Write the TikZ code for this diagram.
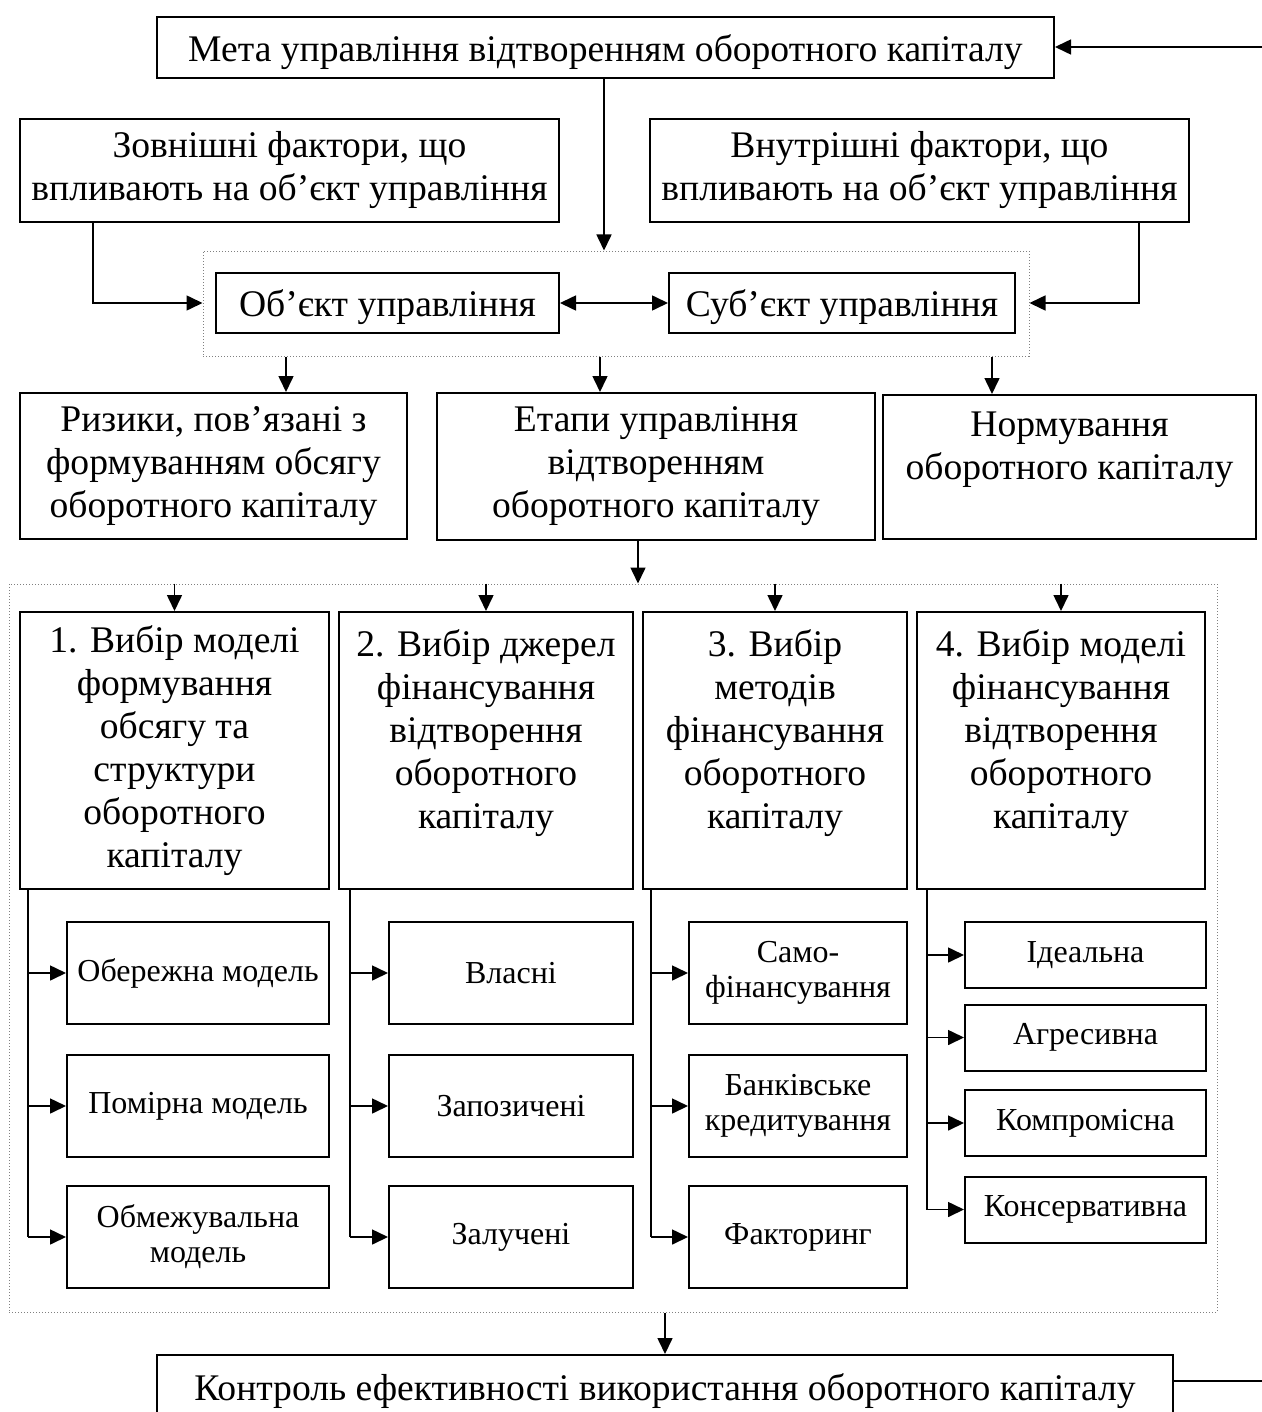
\documentclass[tikz,border=0pt]{standalone}
\usepackage{fontspec}
\setmainfont{Liberation Serif}
\usetikzlibrary{arrows.meta}

\begin{document}
\begin{tikzpicture}[x=0.5pt,y=-0.5pt,
    box/.style={draw,line width=1pt,align=center,inner sep=2pt,font=\fontsize{18.8}{21.5}\selectfont,
        execute at begin node=\rule{0pt}{18pt}},
    sbox/.style={draw,line width=1pt,align=center,inner sep=2pt,font=\fontsize{16}{17.5}\selectfont},
    grp/.style={draw=gray,densely dotted,line width=0.5pt},
    line/.style={line width=0.8pt},
    arr/.style={line width=0.8pt,-{Triangle[length=8pt,width=7.5pt]}},
    arrb/.style={line width=0.8pt,{Triangle[length=8pt,width=7.5pt]}-{Triangle[length=8pt,width=7.5pt]}}]
    \useasboundingbox (0,0) rectangle (1262,1412);
    \node[grp,minimum width=413pt,minimum height=52.5pt] (grp1) at (616,303.5) {};
    \node[grp,minimum width=604pt,minimum height=364pt] (grp2) at (613,948) {};
    \node[box,minimum width=448.5pt,minimum height=30.5pt] (meta) at (605.5,47.5) {Мета управління відтворенням оборотного капіталу};
    \node[box,minimum width=269.5pt,minimum height=51.5pt] (zovn) at (289.5,170.5) {Зовнішні фактори, що\\ впливають на об’єкт управління};
    \node[box,minimum width=269.5pt,minimum height=51.5pt] (vnutr) at (919.5,170.5) {Внутрішні фактори, що\\ впливають на об’єкт управління};
    \node[box,minimum width=171.5pt,minimum height=30pt] (obj) at (387.5,303) {Об’єкт управління};
    \node[box,minimum width=173pt,minimum height=30pt] (subj) at (842,303) {Суб’єкт управління};
    \node[box,minimum width=193.5pt,minimum height=73pt] (ryz) at (213.5,466) {Ризики, пов’язані з\\ формуванням обсягу\\ оборотного капіталу};
    \node[box,minimum width=219pt,minimum height=73.5pt] (etap) at (656,466.5) {Етапи управління\\ відтворенням\\ оборотного капіталу};
    \node[box,minimum width=186.5pt,minimum height=72pt] (norm) at (1069.5,467) {Нормування\\ оборотного капіталу\\ \mbox{}};
    \node[box,minimum width=154.5pt,minimum height=138.5pt] (s1) at (174.5,750.5) {1. Вибір моделі\\ формування\\ обсягу та\\ структури\\ оборотного\\ капіталу};
    \node[box,minimum width=147pt,minimum height=138.5pt] (s2) at (486,750.5) {2. Вибір джерел\\ фінансування\\ відтворення\\ оборотного\\ капіталу\\ \mbox{}};
    \node[box,minimum width=132pt,minimum height=138.5pt] (s3) at (775,750.5) {3. Вибір\\ методів\\ фінансування\\ оборотного\\ капіталу\\ \mbox{}};
    \node[box,minimum width=144pt,minimum height=138.5pt] (s4) at (1061,750.5) {4. Вибір моделі\\ фінансування\\ відтворення\\ оборотного\\ капіталу\\ \mbox{}};
    \foreach \i/\y/\t in {1/973/Обережна модель,2/1106/Помірна модель,3/1237/Обмежувальна\\ модель}
        \node[sbox,minimum width=131pt,minimum height=51pt] (m1\i) at (198,\y) {\t};
    \foreach \i/\y/\t in {1/973/Власні,2/1106/Запозичені,3/1237/Залучені}
        \node[sbox,minimum width=122pt,minimum height=51pt] (m2\i) at (511,\y) {\t};
    \foreach \i/\y/\t in {1/973/Само-\\ фінансування,2/1106/Банківське\\ кредитування,3/1237/Факторинг}
        \node[sbox,minimum width=109pt,minimum height=51pt] (m3\i) at (798,\y) {\t};
    \foreach \i/\y/\t in {1/955/Ідеальна,2/1037.5/Агресивна,3/1123/Компромісна,4/1209.5/Консервативна}
        \node[sbox,minimum width=120.5pt,minimum height=33pt] (m4\i) at (1085.5,\y) {\t};
    \node[box,minimum width=508pt,minimum height=31.5pt] (kontr) at (665,1386.5) {Контроль ефективності використання оборотного капіталу};
    \coordinate (fb1) at (1262,47);
    \coordinate (fb2) at (1262,1381);
    \coordinate (a0) at (604,0);
    \coordinate (a1) at (286,0);
    \coordinate (a2) at (600,0);
    \coordinate (a3) at (992,0);
    \coordinate (a4) at (638,0);
    \coordinate (a5) at (93,0);
    \coordinate (a6) at (1139,0);
    \draw[arr] (fb1) -- (fb1 -| meta.east);
    \draw[line] (kontr.east |- fb2) -- (fb2);
    \draw[arr] (meta.south -| a0) -- (grp1.north -| a0);
    \draw[arr] (zovn.south -| a5) |- (grp1.west |- obj);
    \draw[arr] (vnutr.south -| a6) |- (grp1.east |- subj);
    \draw[arrb] (obj) -- (subj);
    \draw[arr] (grp1.south -| a1) -- (ryz.north -| a1);
    \draw[arr] (grp1.south -| a2) -- (etap.north -| a2);
    \draw[arr] (grp1.south -| a3) -- (norm.north -| a3);
    \draw[arr] (etap.south -| a4) -- (grp2.north -| a4);
    \foreach \c in {1,...,4}
        \draw[arr] (grp2.north -| s\c) -- (s\c);
    \foreach \c/\x/\n in {1/28/3,2/350/3,3/651/3,4/927/4} {
        \coordinate (t\c) at (\x,0);
        \draw[line] (s\c.south -| t\c) -- (t\c |- m\c\n);
        \foreach \i in {1,...,\n}
            \draw[arr] (t\c |- m\c\i) -- (m\c\i.west);
    }
    \draw[arr] (grp2.south -| kontr) -- (kontr);
\end{tikzpicture}
\end{document}
